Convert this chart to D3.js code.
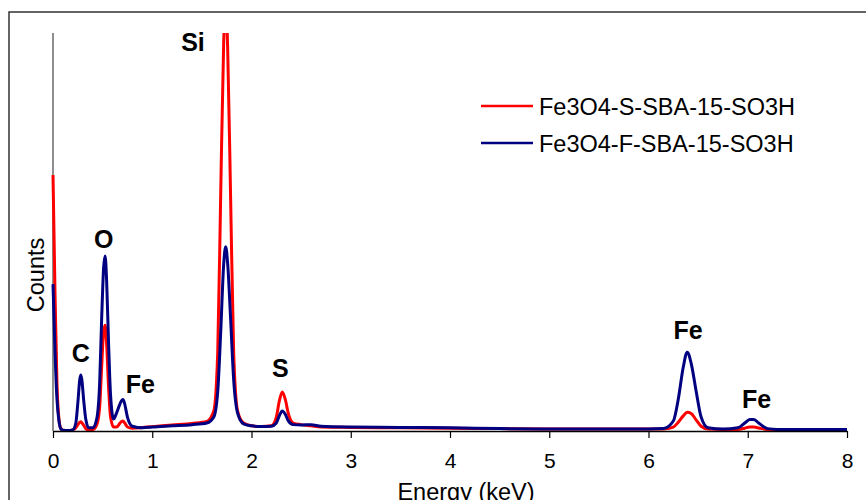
<!DOCTYPE html>
<html>
<head>
<meta charset="utf-8">
<script src="https://cdn.jsdelivr.net/npm/d3@7"></script>
<style>
body{margin:0;background:#fff}
text{font-family:Arial,"Liberation Sans",sans-serif}
</style>
</head>
<body>
<svg width="866" height="500"></svg>
<script>
// energies in keV (denser around the peaks)
const energy=[0,0.02,0.04,0.06,0.08,0.1,0.15,0.2,0.23,0.25,0.27,0.28,0.29,0.31,0.33,0.36,0.4,0.44,0.47,0.49,0.51,0.525,0.54,0.56,0.58,0.61,0.64,0.67,0.69,0.705,0.72,0.75,0.8,0.9,1.0,1.2,1.4,1.55,1.62,1.66,1.69,1.72,1.74,1.76,1.79,1.82,1.86,1.92,2.0,2.1,2.2,2.25,2.28,2.31,2.34,2.37,2.42,2.5,2.6,2.7,3.0,3.5,4.0,4.5,5.0,5.5,6.0,6.15,6.25,6.3,6.35,6.39,6.43,6.48,6.53,6.6,6.75,6.9,6.97,7.02,7.06,7.12,7.2,7.3,7.6,8.0]
// counts (arbitrary units, axis has no tick labels)
const sCounts=[64.3,35,12,3,0.6,0.2,0.1,0.3,0.8,1.6,2.2,2.3,2.1,1.4,0.6,0.2,0.3,1.5,6,16,25,26.6,22,11,3.5,1.0,1.0,1.8,2.4,2.5,2.1,1.0,0.7,0.9,1.1,1.5,1.9,2.4,5,20,60,98,108,96,58,20,5,2,1.3,1.1,1.3,3.5,7.5,9.8,8.0,4.5,2.0,1.6,1.3,1.0,0.9,0.8,0.7,0.6,0.5,0.5,0.5,0.5,1.0,2.2,3.8,4.7,4.4,2.8,1.2,0.5,0.4,0.4,0.7,1.0,1.0,0.7,0.4,0.3,0.3,0.3]
const fCounts=[36.9,20,8,2.5,0.5,0.2,0.1,0.3,2,7,13,14.1,13,7.5,3,0.8,0.8,3,12,28,41,44,38,22,9,3,4.5,6.5,7.6,7.9,7,3.5,1.2,0.8,1.0,1.3,1.6,2.0,3.5,10,25,42,46.3,42,28,13,4.5,1.8,1.3,1.1,1.2,2.0,3.8,5.0,4.2,2.6,1.6,1.5,1.6,1.2,1.0,0.9,0.8,0.6,0.5,0.5,0.5,0.6,2.5,8,16,19.8,17,10,3.5,0.8,0.5,0.8,2.0,2.9,2.9,1.8,0.6,0.4,0.4,0.4]
const seriesNames=["Fe3O4-S-SBA-15-SO3H","Fe3O4-F-SBA-15-SO3H"]
const seriesColors=["#ff0000","#000080"]
const xTicks=[0,1,2,3,4,5,6,7,8]
const peakLabels=[{t:"Si",e:1.41,v:95.5},{t:"O",e:0.51,v:46},{t:"C",e:0.28,v:17.3},{t:"Fe",e:0.88,v:9.5},{t:"S",e:2.29,v:13.5},{t:"Fe",e:6.4,v:23.1},{t:"Fe",e:7.09,v:5.8}]

const svg=d3.select("svg")
svg.append("rect").attr("x",9).attr("y",12).attr("width",900).attr("height",600)
  .attr("fill","none").attr("stroke","#333").attr("stroke-width",1.5)

const x=d3.scaleLinear().domain([0,8]).range([53,847])
const y=d3.scaleLinear().domain([0,100]).range([431,33])

svg.append("defs").append("clipPath").attr("id","clip")
  .append("rect").attr("x",50).attr("y",33).attr("width",800).attr("height",400)

// y axis: plain line, no ticks
svg.append("line").attr("x1",53).attr("x2",53).attr("y1",33).attr("y2",431)
  .attr("stroke","#444").attr("stroke-width",1.2)

const series=[sCounts,fCounts]
const line=d3.line().x((d,i)=>x(energy[i])).y(d=>y(d)).curve(d3.curveMonotoneX)
svg.append("g").attr("clip-path","url(#clip)")
  .selectAll("path").data(series).join("path")
  .attr("d",line).attr("fill","none")
  .attr("stroke",(d,i)=>seriesColors[i]).attr("stroke-width",3).attr("stroke-linejoin","round")

const xa=svg.append("g").attr("transform","translate(0,431)")
  .call(d3.axisBottom(x).tickValues(xTicks).tickSize(7).tickSizeOuter(0).tickPadding(15))
xa.select(".domain").attr("stroke","#000").attr("stroke-width",1.5)
xa.selectAll(".tick line").attr("stroke","#000").attr("stroke-width",1.2)
xa.selectAll(".tick text").attr("font-size",21).attr("fill","#000")
  .attr("font-family","Arial,'Liberation Sans',sans-serif")

svg.append("text").attr("x",466).attr("y",500).attr("text-anchor","middle")
  .attr("font-size",23.5).text("Energy (keV)")
svg.append("text").attr("transform","translate(44,275) rotate(-90)").attr("text-anchor","middle")
  .attr("font-size",23.5).text("Counts")

svg.selectAll(".pk").data(peakLabels).join("text").attr("class","pk")
  .attr("x",d=>x(d.e)).attr("y",d=>y(d.v)).attr("text-anchor","middle")
  .attr("font-size",25).attr("font-weight","bold").text(d=>d.t)

const lg=svg.selectAll(".lg").data(seriesNames).join("g").attr("class","lg")
  .attr("transform",(d,i)=>`translate(481,${106+i*37})`)
lg.append("line").attr("x1",0).attr("x2",52).attr("stroke",(d,i)=>seriesColors[i]).attr("stroke-width",2.5)
lg.append("text").attr("x",58).attr("y",9).attr("font-size",23.5).text(d=>d)
</script>
</body>
</html>
